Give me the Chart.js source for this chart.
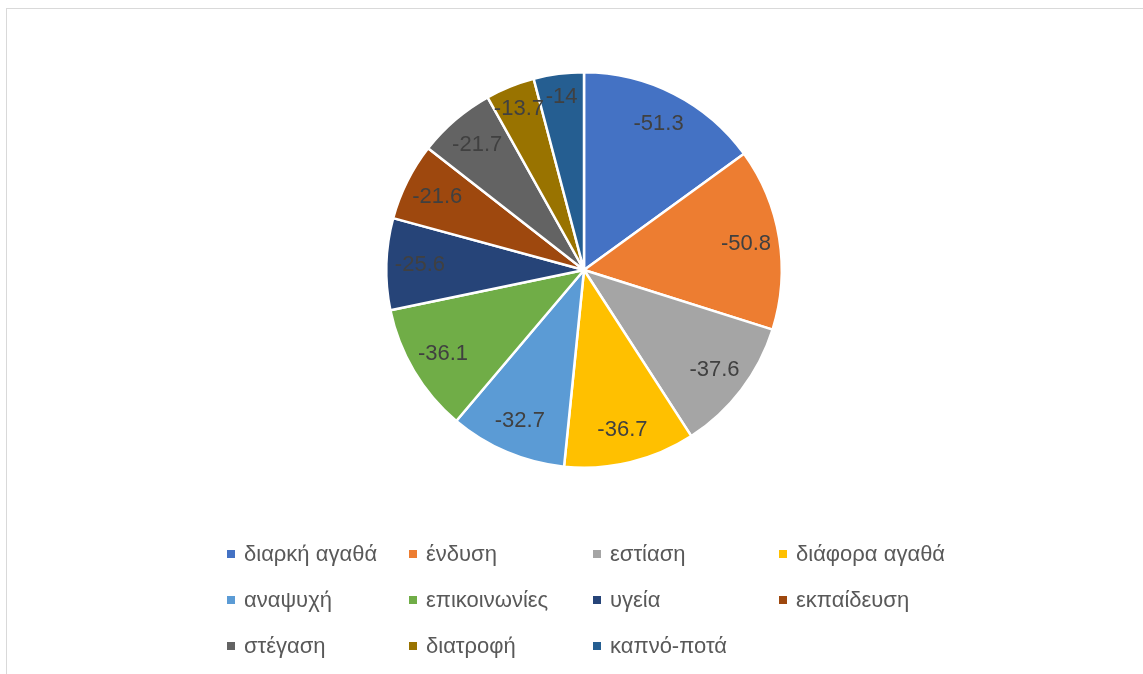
<!DOCTYPE html>
<html>
<head>
<meta charset="utf-8">
<script src="https://cdn.jsdelivr.net/npm/chart.js@4"></script>
<style>
  html, body { margin: 0; padding: 0; background: #fff; overflow: hidden; }
  body { width: 1143px; height: 674px; position: relative; font-family: "Liberation Sans", Arial, sans-serif; }
  .frame { position: absolute; left: 6px; top: 8px; width: 1200px; height: 700px; border: 1px solid #d9d9d9; }
  .wrap { position: absolute; left: 0; top: 0; width: 1143px; height: 540px; }
  #legend {
    position: absolute; left: 227px; top: 531px;
    display: grid; grid-template-columns: 182px 184px 186px 186px;
    grid-auto-rows: 46px; color: #595959; font-size: 22px;
  }
  #legend .item { display: flex; align-items: center; white-space: nowrap; height: 46px; }
  #legend .box { width: 8px; height: 8px; margin-right: 9px; flex: none; }
</style>
</head>
<body>
<div class="frame"></div>
<div class="wrap"><canvas id="pieChart"></canvas></div>
<div id="legend"></div>
<script>
// categories and values
const categories = ['διαρκή αγαθά', 'ένδυση', 'εστίαση', 'διάφορα αγαθά', 'αναψυχή', 'επικοινωνίες',
  'υγεία', 'εκπαίδευση', 'στέγαση', 'διατροφή', 'καπνό-ποτά'];
const values = [-51.3, -50.8, -37.6, -36.7, -32.7, -36.1, -25.6, -21.6, -21.7, -13.7, -14];
const colors = ['#4472C4', '#ED7D31', '#A5A5A5', '#FFC000', '#5B9BD5', '#70AD47',
  '#264478', '#9E480E', '#636363', '#997300', '#255E91'];

// data labels drawn near the rim of each slice
const sliceLabels = {
  id: 'sliceLabels',
  afterDatasetsDraw(chart) {
    const ctx = chart.ctx;
    const meta = chart.getDatasetMeta(0);
    ctx.save();
    ctx.font = '22px "Liberation Sans", Arial, sans-serif';
    ctx.fillStyle = '#404040';
    ctx.textAlign = 'center';
    ctx.textBaseline = 'middle';
    meta.data.forEach((arc, i) => {
      const p = arc.getProps(['x', 'y', 'startAngle', 'endAngle', 'outerRadius'], true);
      const mid = (p.startAngle + p.endAngle) / 2;
      const r = p.outerRadius * (Math.abs(values[i]) < 16 ? 0.88 : 0.83);
      ctx.fillText(String(values[i]), p.x + Math.cos(mid) * r, p.y + Math.sin(mid) * r);
    });
    ctx.restore();
  }
};

const pieChart = new Chart(document.getElementById('pieChart'), {
  type: 'pie',
  data: {
    labels: categories,
    datasets: [{
      data: values,
      backgroundColor: colors,
      borderColor: '#ffffff',
      borderWidth: 2.5
    }]
  },
  options: {
    responsive: true,
    maintainAspectRatio: false,
    animation: false,
    layout: { padding: { left: 385, right: 360, top: 71, bottom: 71 } },
    plugins: {
      legend: { display: false },
      tooltip: { enabled: false }
    }
  },
  plugins: [sliceLabels]
});

// legend in Excel-style columns
const legendEl = document.getElementById('legend');
categories.forEach((name, i) => {
  const item = document.createElement('div');
  item.className = 'item';
  item.innerHTML = '<span class="box" style="background:' + colors[i] + '"></span><span>' + name + '</span>';
  legendEl.appendChild(item);
});
</script>
</body>
</html>
